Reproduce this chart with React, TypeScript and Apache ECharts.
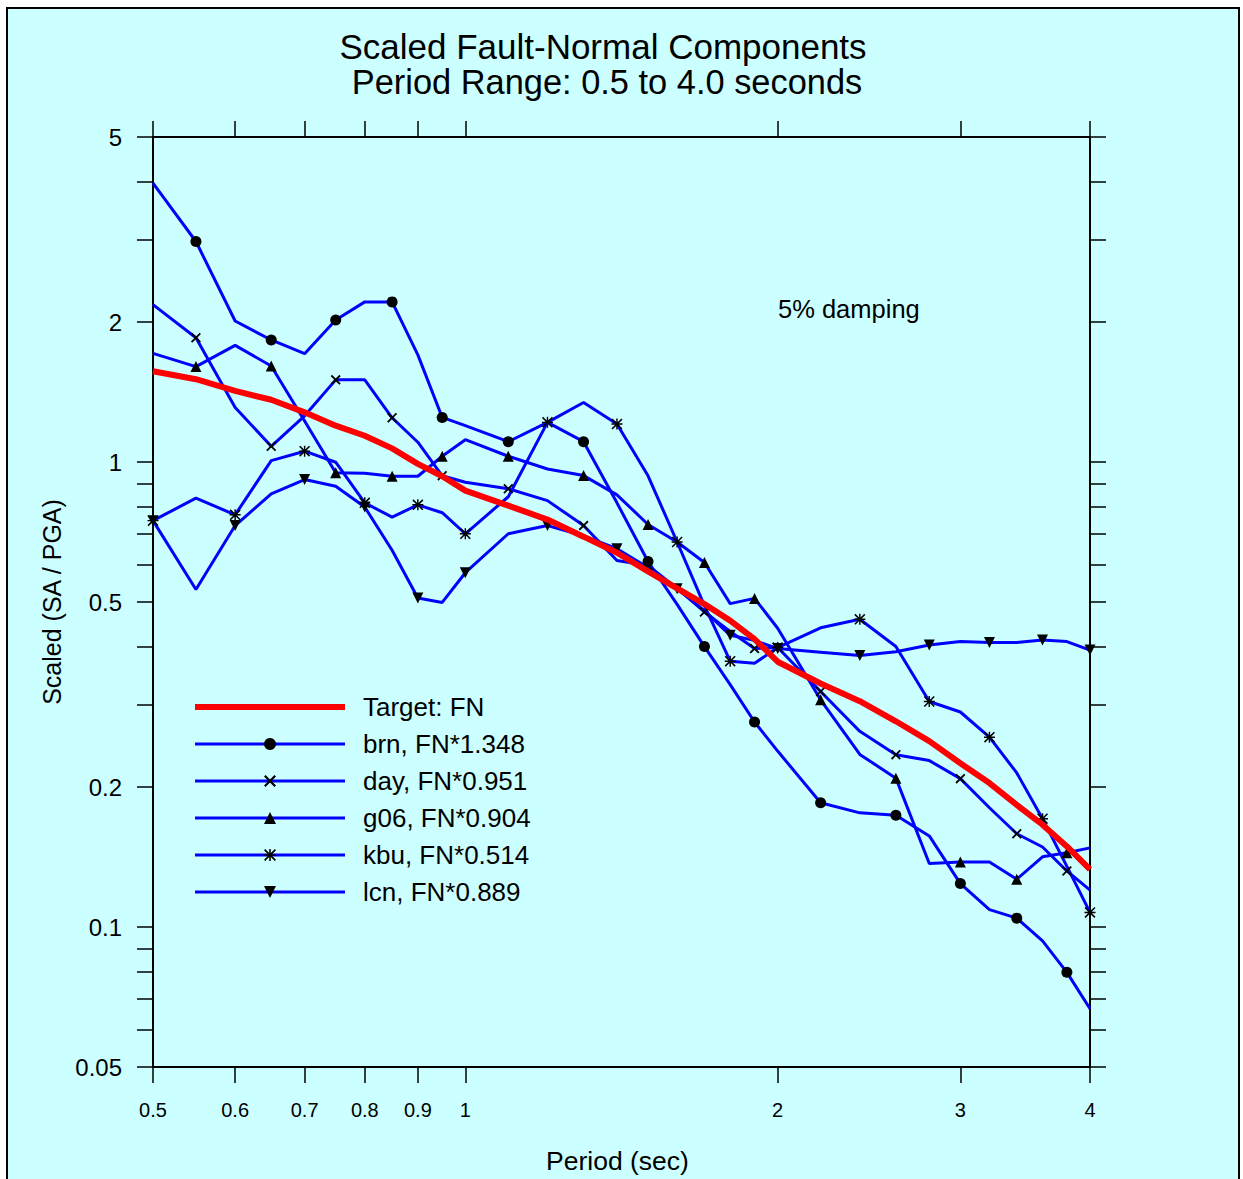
import React, { useEffect, useRef } from 'react';
import * as echarts from 'echarts';

// Periods (sec)
const periods = [0.5, 0.55, 0.6, 0.65, 0.7, 0.75, 0.8, 0.85, 0.9, 0.95, 1.0, 1.1, 1.2, 1.3, 1.4, 1.5, 1.6, 1.7, 1.8, 1.9, 2.0, 2.2, 2.4, 2.6, 2.8, 3.0, 3.2, 3.4, 3.6, 3.8, 4.0];

// Scaled spectral values (SA / PGA)
const target = [1.567, 1.507, 1.422, 1.361, 1.279, 1.197, 1.139, 1.07, 0.991, 0.932, 0.868, 0.806, 0.752, 0.691, 0.638, 0.582, 0.535, 0.495, 0.456, 0.416, 0.372, 0.334, 0.306, 0.277, 0.251, 0.225, 0.204, 0.183, 0.166, 0.149, 0.133];
const brn = [3.98, 2.98, 2.01, 1.83, 1.71, 2.02, 2.21, 2.21, 1.7, 1.247, 1.197, 1.106, 1.217, 1.106, 0.817, 0.611, 0.494, 0.401, 0.332, 0.276, 0.239, 0.185, 0.176, 0.174, 0.157, 0.124, 0.109, 0.1045, 0.0934, 0.0799, 0.0667];
const day = [2.18, 1.85, 1.31, 1.081, 1.257, 1.502, 1.502, 1.245, 1.103, 0.934, 0.905, 0.876, 0.826, 0.73, 0.614, 0.599, 0.535, 0.476, 0.432, 0.397, 0.399, 0.321, 0.2635, 0.2347, 0.228, 0.2085, 0.1805, 0.1587, 0.1486, 0.132, 0.12];
const g06 = [1.713, 1.604, 1.782, 1.609, 1.225, 0.948, 0.946, 0.932, 0.932, 1.029, 1.117, 1.029, 0.966, 0.935, 0.85, 0.734, 0.673, 0.608, 0.496, 0.509, 0.439, 0.308, 0.235, 0.209, 0.137, 0.138, 0.138, 0.1267, 0.1416, 0.1445, 0.148];
const kbu = [0.748, 0.836, 0.77, 1.007, 1.055, 0.999, 0.817, 0.761, 0.809, 0.778, 0.701, 0.842, 1.217, 1.343, 1.207, 0.934, 0.673, 0.491, 0.373, 0.369, 0.399, 0.44, 0.459, 0.401, 0.3055, 0.29, 0.256, 0.2145, 0.171, 0.135, 0.1075];
const lcn = [0.748, 0.532, 0.73, 0.854, 0.917, 0.887, 0.8, 0.646, 0.51, 0.499, 0.578, 0.701, 0.73, 0.694, 0.651, 0.593, 0.534, 0.479, 0.424, 0.4135, 0.397, 0.39, 0.3835, 0.391, 0.404, 0.411, 0.409, 0.409, 0.414, 0.411, 0.394];

const seriesNames = ['brn, FN*1.348', 'day, FN*0.951', 'g06, FN*0.904', 'kbu, FN*0.514', 'lcn, FN*0.889'];
const targetName = 'Target: FN';

// Tick values
const xTicks = [0.5, 0.6, 0.7, 0.8, 0.9, 1, 2, 3, 4];
const yTicks = [0.05, 0.06, 0.07, 0.08, 0.09, 0.1, 0.2, 0.3, 0.4, 0.5, 0.6, 0.7, 0.8, 0.9, 1, 2, 3, 4, 5];
const yLabels = [0.05, 0.1, 0.2, 0.5, 1, 2, 5];

const FONT = '"Liberation Sans", Arial, Helvetica, sans-serif';

const SYM_X = 'path://M0,1.3 L1.3,0 L5,3.7 L8.7,0 L10,1.3 L6.3,5 L10,8.7 L8.7,10 L5,6.3 L1.3,10 L0,8.7 L3.7,5 Z';
const SYM_STAR = 'path://M4.35,0 L5.65,0 L5.65,10 L4.35,10 Z M0,4.35 L10,4.35 L10,5.65 L0,5.65 Z M1,0 L10,9 L9,10 L0,1 Z M9,0 L10,1 L1,10 L0,9 Z';
const SYM_TRI_DOWN = 'path://M0,0 L10,0 L5,9 Z';
const SYM_TRI_UP = 'path://M5,0 L10,9 L0,9 Z';

const fmt = (v: number) => String(parseFloat(Number(v).toPrecision(3)));

export default function App() {
  const ref = useRef<HTMLDivElement>(null);

  useEffect(() => {
    if (!ref.current) return;
    const chart = echarts.init(ref.current, undefined, { renderer: 'svg' });

    const mkData = (vals: number[], odd: boolean) =>
      periods.map((p, i) => {
        const show = odd ? i % 2 === 1 : i % 2 === 0;
        return show ? { value: [p, vals[i]] } : { value: [p, vals[i]], symbol: 'none' };
      });

    const blueSeries = [
      { name: seriesNames[0], vals: brn, symbol: 'circle', size: 11, odd: true },
      { name: seriesNames[1], vals: day, symbol: SYM_X, size: 10, odd: true },
      { name: seriesNames[2], vals: g06, symbol: SYM_TRI_UP, size: 11, odd: true },
      { name: seriesNames[3], vals: kbu, symbol: SYM_STAR, size: 11, odd: false },
      { name: seriesNames[4], vals: lcn, symbol: SYM_TRI_DOWN, size: 11, odd: false },
    ].map((s) => ({
      type: 'line',
      name: s.name,
      xAxisIndex: 0,
      yAxisIndex: 0,
      data: mkData(s.vals, s.odd),
      symbol: s.symbol,
      symbolSize: s.size,
      showSymbol: true,
      lineStyle: { color: '#0000FF', width: 3 },
      itemStyle: { color: '#000000' },
      emphasis: { disabled: true },
      z: 2,
    }));

    const axisLineStyle = { color: '#000', width: 2 };
    const tickLineStyle = { color: '#000', width: 1.5 };

    const xAxisCfg = (position: string, labels: boolean) => ({
      type: 'log',
      logBase: 10,
      min: 0.5,
      max: 4,
      position,
      gridIndex: 0,
      name: labels ? 'Period (sec)' : '',
      nameLocation: 'middle',
      nameGap: 80,
      nameTextStyle: { fontSize: 26.5, color: '#000', fontFamily: FONT, padding: [0, 8, 0, 0] },
      axisLine: { show: true, onZero: false, lineStyle: axisLineStyle },
      axisTick: { show: true, inside: false, length: 16, lineStyle: tickLineStyle, customValues: xTicks },
      axisLabel: {
        show: labels,
        customValues: xTicks,
        margin: 33,
        fontSize: 20,
        color: '#000',
        fontFamily: FONT,
        formatter: fmt,
      },
      splitLine: { show: false },
      minorTick: { show: false },
    });

    const yAxisCfg = (position: string, labels: boolean) => ({
      type: 'log',
      logBase: 10,
      min: 0.05,
      max: 5,
      position,
      gridIndex: 0,
      name: labels ? 'Scaled (SA / PGA)' : '',
      nameLocation: 'middle',
      nameGap: 88,
      nameTextStyle: { fontSize: 25, color: '#000', fontFamily: FONT },
      axisLine: { show: true, onZero: false, lineStyle: axisLineStyle },
      axisTick: { show: true, inside: false, length: 16, lineStyle: tickLineStyle, customValues: yTicks },
      axisLabel: {
        show: labels,
        customValues: yLabels,
        margin: 31,
        fontSize: 24,
        color: '#000',
        fontFamily: FONT,
        formatter: fmt,
      },
      splitLine: { show: false },
      minorTick: { show: false },
    });

    const option: any = {
      animation: false,
      backgroundColor: 'transparent',
      textStyle: { fontFamily: FONT },
      grid: { left: 153, right: 153, top: 137, bottom: 109, containLabel: false },
      xAxis: [xAxisCfg('bottom', true), xAxisCfg('top', false)],
      yAxis: [yAxisCfg('left', true), yAxisCfg('right', false)],
      legend: {
        show: true,
        orient: 'vertical',
        left: 192,
        top: 694,
        padding: 0,
        itemWidth: 150,
        itemHeight: 15,
        itemGap: 11,
        selectedMode: false,
        lineStyle: { width: 3 },
        textStyle: { fontSize: 26, color: '#000', fontFamily: FONT, padding: [0, 0, 0, 13] },
        data: [
          { name: targetName, itemStyle: { opacity: 0 }, lineStyle: { width: 6 } },
          ...seriesNames.map((n) => ({ name: n })),
        ],
      },
      graphic: [
        {
          type: 'rect',
          z: -10,
          silent: true,
          shape: { x: 7, y: 8, width: 1232, height: 1200 },
          style: { fill: '#CCFFFF', stroke: '#000', lineWidth: 2 },
        },
        {
          type: 'text',
          x: 603,
          y: 46,
          style: {
            text: 'Scaled Fault-Normal Components',
            font: `35px ${FONT}`,
            fill: '#000',
            textAlign: 'center',
            textVerticalAlign: 'middle',
          },
        },
        {
          type: 'text',
          x: 607,
          y: 82,
          style: {
            text: 'Period Range: 0.5 to 4.0 seconds',
            font: `34.4px ${FONT}`,
            fill: '#000',
            textAlign: 'center',
            textVerticalAlign: 'middle',
          },
        },
        {
          type: 'text',
          x: 778,
          y: 309,
          style: {
            text: '5% damping',
            font: `25.5px ${FONT}`,
            fill: '#000',
            textAlign: 'left',
            textVerticalAlign: 'middle',
          },
        },
      ],
      series: [
        ...blueSeries,
        {
          type: 'line',
          name: targetName,
          xAxisIndex: 0,
          yAxisIndex: 0,
          data: periods.map((p, i) => [p, target[i]]),
          symbol: 'none',
          showSymbol: false,
          lineStyle: { color: '#FF0000', width: 6 },
          itemStyle: { color: '#FF0000' },
          emphasis: { disabled: true },
          z: 3,
        },
      ],
    };

    chart.setOption(option);
    return () => chart.dispose();
  }, []);

  return (
    <div
      ref={ref}
      style={{ position: 'absolute', left: 0, top: 0, width: 1243, height: 1179, background: '#fff' }}
    />
  );
}
